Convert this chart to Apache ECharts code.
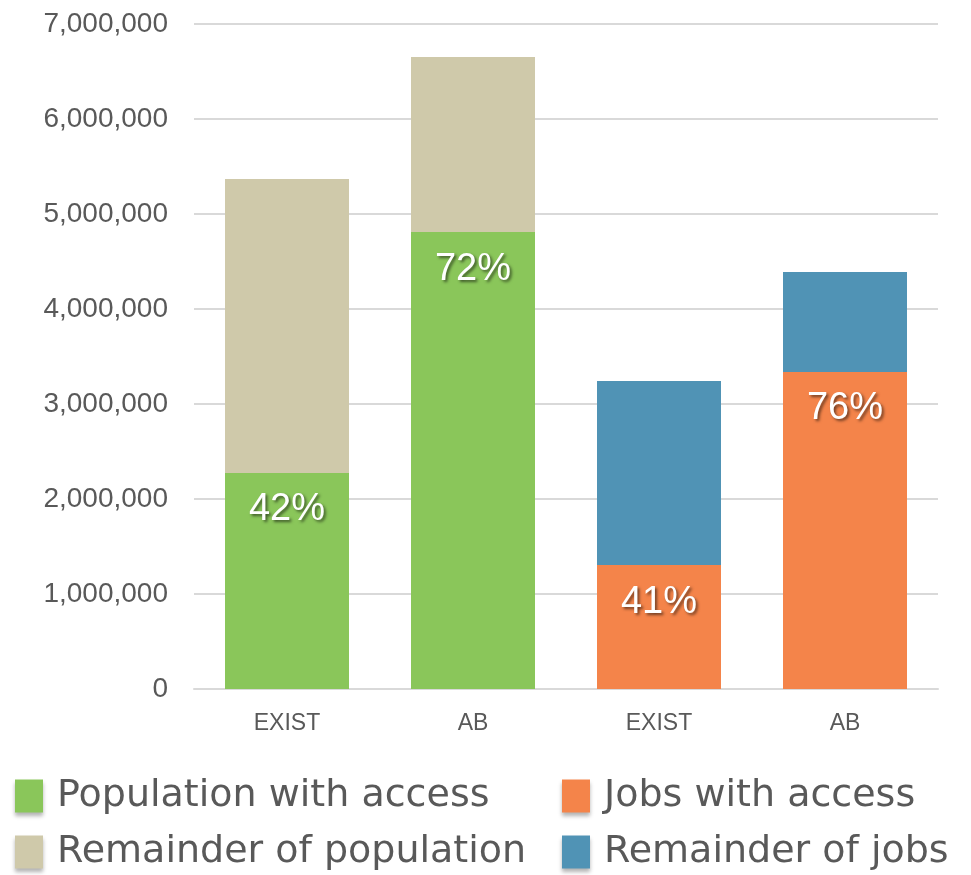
<!DOCTYPE html>
<html>
<head>
<meta charset="utf-8">
<script src="https://cdn.jsdelivr.net/npm/echarts@6/dist/echarts.min.js"></script>
<style>
  html, body { margin: 0; padding: 0; background: #fff; }
  #chart { width: 971px; height: 875px; }
</style>
</head>
<body>
<div id="chart"></div>
<script>
  // categories along the x axis
  var categories = ['EXIST', 'AB', 'EXIST', 'AB'];
  // population bars (first two categories)
  var popWithAccess = [2274000, 4810000, '-', '-'];
  var popRemainder = [3094000, 1843000, '-', '-'];
  // jobs bars (last two categories)
  var jobsWithAccess = ['-', '-', 1305000, 3337000];
  var jobsRemainder = ['-', '-', 1937000, 1052000];
  // share labels printed on the lower segment
  var shareLabels = ['42%', '72%', '41%', '76%'];

  var chart = echarts.init(document.getElementById('chart'));

  var shareLabel = {
    show: true,
    position: 'insideTop',
    distance: 18,
    color: '#fff',
    fontSize: 38,
    fontFamily: 'Liberation Sans',
    textShadowColor: 'rgba(0,0,0,0.55)',
    textShadowBlur: 3,
    textShadowOffsetX: 2,
    textShadowOffsetY: 2,
    formatter: function (p) { return shareLabels[p.dataIndex]; }
  };

  var legendText = {
    color: '#595959',
    fontSize: 38,
    fontFamily: 'DejaVu Sans',
    padding: [0, 0, 0, 9]
  };

  // icon shadow like the reference legend boxes
  var legendIcon = {
    shadowColor: 'rgba(0,0,0,0.3)',
    shadowBlur: 4,
    shadowOffsetY: 3
  };

  chart.setOption({
    animation: false,
    grid: { left: 194, right: 33, top: 24, bottom: 186 },
    legend: [
      {
        orient: 'vertical',
        left: 15,
        top: 777,
        height: 98,
        padding: 0,
        icon: 'rect',
        itemWidth: 28,
        itemHeight: 33,
        itemGap: 18,
        itemStyle: legendIcon,
        textStyle: legendText,
        data: ['Population with access', 'Remainder of population']
      },
      {
        orient: 'vertical',
        left: 562,
        top: 777,
        height: 98,
        padding: 0,
        icon: 'rect',
        itemWidth: 28,
        itemHeight: 33,
        itemGap: 18,
        itemStyle: legendIcon,
        textStyle: legendText,
        data: ['Jobs with access', 'Remainder of jobs']
      }
    ],
    xAxis: {
      type: 'category',
      data: categories,
      axisTick: { show: false },
      axisLine: { lineStyle: { color: '#d9d9d9', width: 2 } },
      axisLabel: { color: '#595959', fontSize: 23, margin: 23, fontFamily: 'Liberation Sans' }
    },
    yAxis: {
      type: 'value',
      min: 0,
      max: 7000000,
      interval: 1000000,
      axisLine: { show: false },
      axisTick: { show: false },
      splitLine: { lineStyle: { color: '#d9d9d9', width: 2 } },
      axisLabel: {
        color: '#595959',
        fontSize: 28,
        margin: 26,
        fontFamily: 'Liberation Sans',
        formatter: function (v) { return v.toLocaleString('en-US'); }
      }
    },
    series: [
      {
        name: 'Population with access',
        type: 'bar',
        stack: 'total',
        barWidth: 124,
        itemStyle: { color: '#8AC65A' },
        label: shareLabel,
        data: popWithAccess
      },
      {
        name: 'Remainder of population',
        type: 'bar',
        stack: 'total',
        itemStyle: { color: '#CFC9AA' },
        data: popRemainder
      },
      {
        name: 'Jobs with access',
        type: 'bar',
        stack: 'total',
        itemStyle: { color: '#F4844A' },
        label: shareLabel,
        data: jobsWithAccess
      },
      {
        name: 'Remainder of jobs',
        type: 'bar',
        stack: 'total',
        itemStyle: { color: '#5093B5' },
        data: jobsRemainder
      }
    ]
  });
</script>
</body>
</html>
